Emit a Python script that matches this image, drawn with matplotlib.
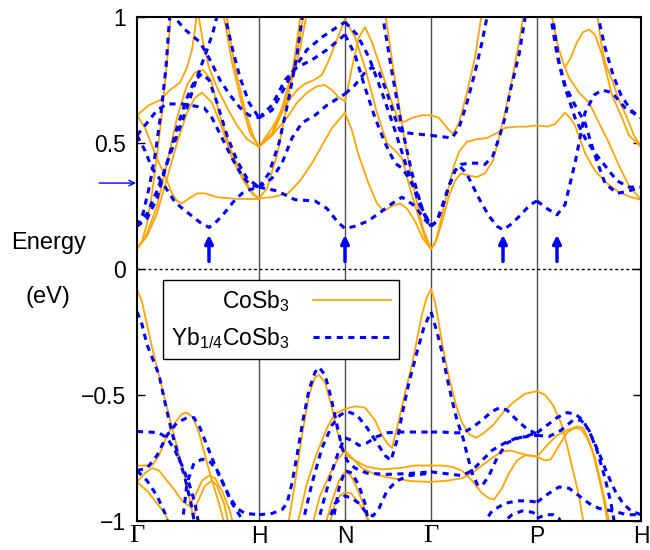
import matplotlib
matplotlib.use('Agg')
import matplotlib.pyplot as plt
from matplotlib.lines import Line2D

plt.rcParams['font.family'] = ['Liberation Sans', 'DejaVu Sans']
plt.rcParams['mathtext.fontset'] = 'custom'
plt.rcParams['mathtext.rm'] = 'Liberation Sans'
plt.rcParams['mathtext.default'] = 'regular'

# high-symmetry points (path length units)
kticks = [0, 122, 208, 294, 400, 504]
klabels = ['Γ', 'H', 'N', 'Γ', 'P', 'H']
yticks = [-1, -0.5, 0, 0.5, 1]
ylabels = ['−1', '−0.5', '0', '0.5', '1']

# CoSb3 bands, (k, E) per segment
co_GH = [
    [(0,0.08),(5,0.11),(10,0.18),(15,0.3),(20,0.45),(25,0.62),(30,0.82),(34,1.02)],
    [(0,0.08),(10,0.14),(20,0.25),(30,0.42),(40,0.6),(50,0.73),(58,0.78),(66,0.79),(74,0.75),(82,0.62),(95,0.46),(108,0.35),(116,0.3),(122,0.28)],
    [(0,0.08),(10,0.13),(20,0.22),(30,0.36),(40,0.5),(50,0.62),(58,0.68),(65,0.70),(75,0.66),(85,0.56),(95,0.44),(108,0.34),(116,0.295),(122,0.28)],
    [(0,0.61),(8,0.56),(15,0.49),(22,0.42),(28,0.37),(35,0.30),(40,0.27),(45,0.26),(52,0.28),(60,0.30),(68,0.30),(80,0.285),(100,0.278),(122,0.278)],
    [(0,0.61),(12,0.65),(23,0.67),(33,0.71),(43,0.74),(50,0.8),(55,0.87),(58,0.95),(60,1.02)],
    [(61,1.02),(66,0.9),(72,0.8),(80,0.72),(90,0.64),(100,0.57),(110,0.515),(122,0.485)],
    [(86,1.02),(95,0.82),(105,0.65),(113,0.54),(122,0.485)],
    [(89,1.02),(98,0.8),(108,0.63),(116,0.53),(122,0.485)],
    [(0,-0.08),(5,-0.13),(10,-0.22),(15,-0.31),(25,-0.47),(35,-0.63),(45,-0.78),(52,-0.9),(58,-1.02)],
    [(0,-0.78),(8,-0.78),(15,-0.78),(22,-0.74),(30,-0.66),(38,-0.61),(45,-0.575),(50,-0.57),(56,-0.59),(62,-0.65),(68,-0.74),(75,-0.84),(82,-0.93),(88,-1.02)],
    [(0,-0.845),(8,-0.81),(15,-0.79),(22,-0.8),(30,-0.84),(38,-0.88),(45,-0.92),(52,-0.94),(58,-0.9),(65,-0.84),(72,-0.82),(78,-0.83),(85,-0.88),(92,-0.95),(97,-1.02)],
    [(0,-0.845),(10,-0.88),(20,-0.93),(28,-0.97),(33,-1.02)],
    [(55,-1.02),(60,-0.93),(68,-0.86),(75,-0.84),(80,-0.86),(87,-0.93),(92,-1.02)],
]
co_HN = [
    [(122,0.28),(130,0.32),(140,0.45),(150,0.65),(158,0.85),(164,1.02)],
    [(122,0.28),(135,0.285),(151,0.30),(163,0.35),(175,0.42),(185,0.49),(195,0.56),(208,0.62)],
    [(122,0.485),(135,0.53),(150,0.60),(160,0.66),(170,0.70),(180,0.725),(188,0.73),(195,0.71),(202,0.68),(208,0.665)],
    [(122,0.485),(135,0.56),(150,0.66),(160,0.71),(168,0.735),(177,0.75),(185,0.77),(192,0.83),(198,0.89),(208,0.99)],
    [(122,0.485),(135,0.53),(145,0.62),(155,0.75),(163,0.87),(170,1.02)],
    [(122,0.485),(135,0.54),(145,0.64),(155,0.78),(162,0.9),(167,1.02)],
    [(151,-1.02),(158,-0.85),(165,-0.66),(172,-0.5),(178,-0.43),(182,-0.42),(188,-0.45),(195,-0.55),(200,-0.64),(205,-0.7),(210,-0.74),(218,-0.76),(230,-0.785),(245,-0.795),(262,-0.79),(278,-0.78),(294,-0.78)],
    [(160,-1.02),(170,-0.85),(180,-0.73),(190,-0.63),(198,-0.575),(208,-0.555),(218,-0.545),(228,-0.55),(238,-0.6),(245,-0.66),(250,-0.69),(255,-0.71),(260,-0.63),(265,-0.545),(270,-0.46),(275,-0.38),(280,-0.28),(285,-0.18),(290,-0.11),(294,-0.08)],
    [(175,-1.02),(183,-0.9),(192,-0.82),(200,-0.76),(208,-0.72),(215,-0.75),(225,-0.79),(238,-0.815),(255,-0.83),(275,-0.842),(294,-0.845)],
    [(188,-1.02),(195,-0.92),(202,-0.84),(208,-0.805),(214,-0.82),(220,-0.87),(226,-0.93),(232,-1.02)],
    [(192,-1.02),(198,-0.93),(203,-0.9),(208,-0.885),(214,-0.89),(222,-0.93),(230,-0.98),(234,-1.02)],
]
co_NG = [
    [(208,0.62),(215,0.55),(221,0.46),(231,0.345),(240,0.26),(247,0.23),(255,0.25),(263,0.26),(270,0.24),(278,0.19),(286,0.12),(294,0.08)],
    [(208,0.665),(215,0.8),(222,0.92),(228,0.96),(235,0.9),(245,0.78),(255,0.66),(262,0.585),(268,0.585),(275,0.6),(285,0.61),(294,0.61)],
    [(208,0.99),(218,0.92),(228,0.8),(240,0.62),(250,0.5),(258,0.47),(265,0.44),(273,0.32),(282,0.2),(290,0.1),(294,0.08)],
    [(248,1.02),(258,0.75),(268,0.5),(278,0.3),(286,0.16),(294,0.08)],
]
co_GP = [
    [(294,0.61),(302,0.6),(310,0.56),(316,0.535),(322,0.58),(330,0.7),(338,0.84),(345,1.02)],
    [(294,0.08),(298,0.1),(302,0.16),(307,0.25),(312,0.33),(317,0.41),(322,0.465),(330,0.505),(340,0.515),(350,0.52),(360,0.54),(368,0.56),(380,0.565),(390,0.565),(400,0.57)],
    [(294,0.08),(300,0.12),(306,0.2),(312,0.29),(318,0.35),(324,0.38),(332,0.37),(340,0.365),(348,0.38),(356,0.43),(362,0.52),(368,0.62),(375,0.75),(382,0.9),(387,1.02)],
    [(294,-0.08),(298,-0.13),(302,-0.22),(306,-0.315),(312,-0.43),(319,-0.54),(325,-0.61),(332,-0.655),(339,-0.67),(347,-0.65),(356,-0.62),(366,-0.57),(376,-0.53),(388,-0.495),(400,-0.485)],
    [(294,-0.78),(305,-0.78),(315,-0.785),(325,-0.8),(335,-0.84),(345,-0.89),(352,-0.91),(357,-0.915),(365,-0.87),(372,-0.81),(380,-0.76),(388,-0.74),(395,-0.74),(400,-0.745)],
    [(294,-0.845),(310,-0.84),(325,-0.83),(335,-0.81),(345,-0.78),(355,-0.75),(365,-0.725),(373,-0.72),(382,-0.73),(392,-0.74),(400,-0.745)],
]
co_PH = [
    [(400,0.57),(410,0.565),(418,0.575),(428,0.62),(433,0.6),(438,0.57),(448,0.46),(458,0.39),(470,0.34),(482,0.305),(494,0.285),(504,0.275)],
    [(414,1.02),(420,0.9),(426,0.82),(432,0.76),(442,0.7),(452,0.66),(462,0.58),(472,0.5),(482,0.41),(492,0.33),(504,0.275)],
    [(428,0.8),(434,0.84),(440,0.9),(446,0.94),(452,0.95),(458,0.93),(465,0.85),(475,0.69),(485,0.6),(492,0.53),(504,0.485)],
    [(460,1.02),(464,0.9),(468,0.82),(475,0.75),(482,0.67),(490,0.6),(497,0.53),(504,0.485)],
    [(400,-0.485),(408,-0.5),(416,-0.54),(424,-0.61),(430,-0.7),(436,-0.8),(442,-0.9),(447,-1.02)],
    [(400,-0.745),(408,-0.76),(414,-0.755),(422,-0.7),(430,-0.65),(438,-0.63),(444,-0.635),(450,-0.67),(456,-0.73),(462,-0.83),(467,-0.92),(471,-1.02)],
    [(400,-0.745),(410,-0.7),(420,-0.66),(430,-0.64),(440,-0.625),(446,-0.63),(452,-0.68),(458,-0.75),(464,-0.85),(469,-0.94),(473,-1.02)],
]

# Yb1/4CoSb3 bands
yb_GH = [
    [(0,0.17),(6,0.22),(12,0.32),(18,0.45),(24,0.62),(29,0.8),(33,1.02)],
    [(0,0.17),(10,0.22),(20,0.31),(30,0.42),(40,0.53),(50,0.64),(60,0.76),(70,0.87),(76,0.94),(81,1.02)],
    [(0,0.17),(10,0.2),(20,0.28),(30,0.42),(40,0.56),(50,0.68),(58,0.75),(65,0.775),(72,0.75),(80,0.66),(90,0.53),(100,0.43),(110,0.36),(122,0.325)],
    [(33,1.02),(48,0.95),(63,0.90),(73,0.83),(83,0.75),(93,0.69),(103,0.64),(112,0.61),(122,0.60)],
    [(0,0.53),(8,0.47),(15,0.40),(25,0.345),(38,0.265),(47,0.235),(55,0.21),(63,0.185),(72,0.165),(80,0.19),(88,0.225),(96,0.265),(105,0.30),(113,0.315),(122,0.325)],
    [(0,0.53),(10,0.58),(20,0.63),(30,0.655),(45,0.655),(60,0.645),(67,0.64),(75,0.60),(85,0.52),(95,0.44),(105,0.37),(113,0.335),(122,0.325)],
    [(87,1.02),(95,0.88),(103,0.76),(112,0.66),(122,0.60)],
    [(0,-0.17),(5,-0.22),(10,-0.3),(16,-0.36),(22,-0.42),(28,-0.53),(35,-0.65),(42,-0.75),(48,-0.83),(54,-0.93),(58,-1.02)],
    [(0,-0.645),(12,-0.647),(22,-0.65),(30,-0.67),(38,-0.72),(45,-0.78),(52,-0.85),(58,-0.93),(62,-1.02)],
    [(0,-0.8),(10,-0.79),(20,-0.74),(30,-0.66),(40,-0.61),(50,-0.59),(57,-0.59),(63,-0.63),(70,-0.7),(78,-0.78),(85,-0.84),(92,-0.9),(100,-0.95),(108,-0.97),(122,-0.975)],
    [(0,-0.8),(10,-0.84),(20,-0.9),(28,-0.97),(32,-1.02)],
    [(45,-1.02),(50,-0.85),(57,-0.77),(65,-0.755),(72,-0.76),(80,-0.8),(87,-0.86),(95,-0.93),(103,-0.98),(110,-1.02)],
]
yb_HN = [
    [(122,0.325),(132,0.38),(142,0.5),(152,0.68),(160,0.85),(166,1.02)],
    [(122,0.325),(135,0.36),(145,0.42),(155,0.52),(165,0.58),(178,0.61),(190,0.65),(208,0.695)],
    [(122,0.6),(135,0.63),(145,0.7),(158,0.8),(170,0.87),(185,0.92),(200,0.96),(208,0.98)],
    [(122,0.6),(135,0.65),(148,0.75),(160,0.8),(175,0.83),(190,0.87),(208,0.93)],
    [(122,0.325),(140,0.31),(158,0.275),(178,0.27),(190,0.24),(200,0.19),(208,0.16),(218,0.17),(231,0.19),(245,0.23),(255,0.26),(265,0.285),(278,0.25),(287,0.2),(294,0.17)],
    [(122,-0.975),(135,-0.97),(145,-0.955),(150,-0.93),(155,-0.85),(160,-0.74),(166,-0.6),(172,-0.48),(178,-0.41),(182,-0.39),(188,-0.42),(194,-0.51),(200,-0.62),(205,-0.71),(210,-0.76),(218,-0.79),(230,-0.81),(250,-0.815),(270,-0.812),(294,-0.805)],
    [(165,-1.02),(175,-0.85),(185,-0.71),(195,-0.62),(203,-0.58),(210,-0.565),(220,-0.58),(230,-0.63),(240,-0.69),(248,-0.74),(254,-0.76),(260,-0.68),(266,-0.56),(272,-0.45),(280,-0.33),(287,-0.23),(294,-0.17)],
    [(180,-1.02),(188,-0.9),(196,-0.79),(202,-0.72),(208,-0.67),(215,-0.68),(222,-0.7),(230,-0.69),(240,-0.665),(250,-0.65),(262,-0.647),(294,-0.647)],
    [(190,-1.02),(198,-0.93),(208,-0.9),(215,-0.91),(222,-0.93),(230,-0.97),(236,-0.98),(242,-0.95),(250,-0.88),(260,-0.84),(272,-0.82),(294,-0.81)],
    [(195,-1.02),(202,-0.87),(208,-0.8),(215,-0.81),(222,-0.86),(228,-0.93),(232,-1.02)],
]
yb_NG = [
    [(208,0.695),(218,0.73),(228,0.78),(235,0.8),(242,0.78),(250,0.7),(258,0.6),(263,0.55),(270,0.54),(282,0.535),(294,0.53)],
    [(208,0.93),(218,0.85),(228,0.72),(238,0.6),(248,0.5),(258,0.42),(265,0.40),(272,0.36),(280,0.3),(288,0.21),(294,0.17)],
    [(245,1.02),(255,0.78),(265,0.56),(275,0.38),(285,0.24),(294,0.17)],
    [(208,0.98),(220,0.93),(232,0.84),(245,0.7),(258,0.55),(270,0.4),(282,0.26),(294,0.17)],
]
yb_GP = [
    [(294,0.53),(305,0.525),(315,0.52),(322,0.56),(330,0.66),(338,0.78),(345,0.9),(351,1.02)],
    [(294,0.17),(300,0.19),(306,0.25),(312,0.33),(318,0.39),(324,0.415),(332,0.42),(340,0.42),(348,0.415),(356,0.45),(362,0.52),(368,0.6),(374,0.72),(382,0.85),(389,1.02)],
    [(294,0.17),(300,0.19),(306,0.26),(312,0.33),(318,0.39),(322,0.41),(327,0.39),(332,0.36),(342,0.28),(352,0.21),(360,0.17),(366,0.155),(375,0.18),(385,0.22),(393,0.255),(400,0.27)],
    [(294,-0.17),(300,-0.25),(305,-0.33),(310,-0.43),(315,-0.52),(320,-0.6),(326,-0.67),(331,-0.75),(336,-0.82),(341,-0.86),(346,-0.855),(352,-0.82),(360,-0.75),(370,-0.69),(382,-0.67),(392,-0.66),(400,-0.65)],
    [(294,-0.647),(305,-0.647),(318,-0.65),(326,-0.65),(335,-0.63),(345,-0.6),(355,-0.565),(363,-0.55),(370,-0.56),(380,-0.6),(390,-0.635),(400,-0.655)],
    [(294,-0.805),(305,-0.81),(315,-0.815),(325,-0.82),(335,-0.8),(345,-0.76),(355,-0.72),(368,-0.69),(380,-0.67),(390,-0.665),(400,-0.66)],
    [(345,-1.02),(355,-0.96),(368,-0.93),(380,-0.92),(390,-0.92),(400,-0.925)],
    [(362,-1.02),(375,-0.975),(385,-0.96),(395,-0.965),(400,-0.975)],
]
yb_PH = [
    [(400,0.27),(410,0.24),(420,0.215),(428,0.255),(438,0.42),(448,0.62),(457,0.69),(465,0.71),(475,0.70),(488,0.64),(504,0.60)],
    [(415,1.02),(422,0.82),(428,0.73),(438,0.65),(448,0.58),(458,0.45),(468,0.34),(480,0.30),(492,0.31),(504,0.325)],
    [(413,1.02),(420,0.85),(428,0.72),(438,0.6),(448,0.52),(458,0.46),(470,0.4),(480,0.35),(492,0.325),(504,0.325)],
    [(460,1.02),(468,0.88),(476,0.77),(484,0.69),(494,0.63),(504,0.60)],
    [(400,-0.65),(410,-0.62),(420,-0.59),(430,-0.57),(438,-0.575),(446,-0.6),(454,-0.66),(462,-0.73),(470,-0.81),(478,-0.88),(486,-0.93),(494,-0.96),(504,-0.975)],
    [(400,-0.66),(412,-0.665),(424,-0.64),(436,-0.6),(444,-0.6),(452,-0.64),(460,-0.72),(468,-0.83),(474,-0.93),(478,-1.02)],
    [(400,-0.925),(412,-0.89),(422,-0.865),(432,-0.87),(442,-0.9),(452,-0.93),(462,-0.95),(475,-0.96),(490,-0.975),(504,-0.975)],
    [(400,-0.99),(408,-0.975),(416,-0.975),(422,-0.99),(426,-1.02)],
]

# markers of the Yb band minima
arrow_k = [72, 208, 366, 420]
fermi_arrow_E = 0.341

fig = plt.figure(figsize=(6.5, 5.5), dpi=100)
ax = fig.add_axes([137/650, 29/550, 504/650, 504/550])

orange = '#ffa500'
blue = '#0000ff'

for band in co_GH + co_HN + co_NG + co_GP + co_PH:
    k = [p[0] for p in band]
    e = [p[1] for p in band]
    ax.plot(k, e, color=orange, lw=1.3, solid_joinstyle='round')

for band in yb_GH + yb_HN + yb_NG + yb_GP + yb_PH:
    k = [p[0] for p in band]
    e = [p[1] for p in band]
    ax.plot(k, e, color=blue, lw=2.2, dashes=(2.0, 1.8))

for kk in kticks[1:-1]:
    ax.axvline(kk, color='0.3', lw=1.0, zorder=0)
ax.axhline(0, color='black', lw=1.0, dashes=(2, 2))

for kk in arrow_k:
    ax.annotate('', xy=(kk, 0.135), xytext=(kk, 0.03),
                arrowprops=dict(arrowstyle='-|>', color=blue, lw=2.5, mutation_scale=12,
                                shrinkA=0, shrinkB=0))
ax.annotate('', xy=(-0.002, fermi_arrow_E), xycoords=('axes fraction', 'data'),
            xytext=(-0.075, fermi_arrow_E), textcoords=('axes fraction', 'data'),
            arrowprops=dict(arrowstyle='->', color=blue, lw=1.0, shrinkA=0, shrinkB=0),
            annotation_clip=False)

ax.set_xlim(0, 504)
ax.set_ylim(-1, 1)
ax.set_xticks(kticks)
ax.set_xticklabels(klabels, fontsize=16.5)
for lab in ax.get_xticklabels():
    if lab.get_text() == 'Γ':
        lab.set_family('Liberation Serif')
        lab.set_fontsize(19)
ax.set_yticks(yticks)
ax.set_yticklabels(ylabels, fontsize=16.5)
ax.tick_params(axis='x', length=0, pad=3)
ax.tick_params(axis='y', direction='in', right=True, length=6, width=1, pad=8)
for sp in ax.spines.values():
    sp.set_linewidth(1.5)

fig.text(49/650, 1 - 243/550, 'Energy', fontsize=17, ha='center', va='center')
fig.text(48/650, 1 - 297/550, '(eV)', fontsize=17, ha='center', va='center')

h1 = Line2D([], [], color=orange, lw=1.3)
h2 = Line2D([], [], color=blue, lw=2.2, dashes=(2.0, 1.8))
leg = ax.legend([h1, h2], ['CoSb$_3$', 'Yb$_{1/4}$CoSb$_3$'], loc='upper left',
                bbox_to_anchor=(0.052, 0.478), markerfirst=False, fontsize=16.5,
                handlelength=3.4, fancybox=False, framealpha=1, edgecolor='black',
                borderaxespad=0, labelspacing=0.5, borderpad=0.35, handletextpad=1.0)
leg.get_frame().set_linewidth(1.0)

fig.savefig('out.png', dpi=100)
